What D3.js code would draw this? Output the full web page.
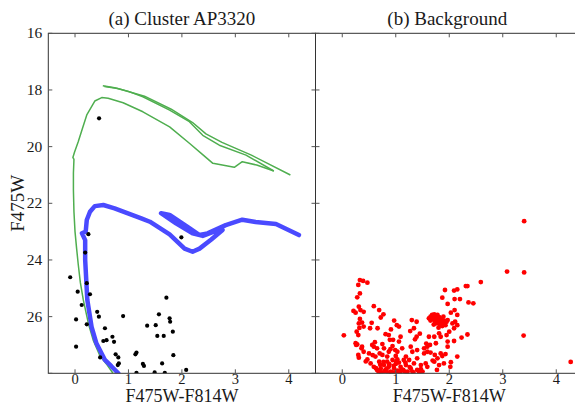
<!DOCTYPE html>
<html><head><meta charset="utf-8">
<script src="https://cdn.jsdelivr.net/npm/d3@7"></script>
<style>
html,body{margin:0;padding:0;background:#fff;}
svg{display:block;}
</style></head><body>
<svg id="chart" width="575" height="405"></svg>
<script>
// ---------- data ----------
const panelTitles = ["(a) Cluster AP3320", "(b) Background"];
const xLabel = "F475W-F814W";
const yLabel = "F475W";
const xTicks = [0, 1, 2, 3, 4];
const yTicks = [16, 18, 20, 22, 24, 26, 28];
const yTickLabels = [16, 18, 20, 22, 24, 26];

// green isochrone pieces [colour, magnitude]
const greenMain = [[0.71,28.0],[0.6,27.7],[0.47,27.4],[0.34,26.83],[0.25,26.24],[0.155,25.41],[0.1,24.8],[0.06,24.15],[0.03,23.6],[0.0,23.0],[-0.02,22.3],[-0.03,21.53],[-0.03,20.94],[-0.02,20.45],[-0.04,20.38],[-0.01,20.2],[0.06,19.83],[0.14,19.35],[0.22,18.88],[0.31,18.59],[0.37,18.39],[0.5,18.27],[0.62,18.29],[0.9,18.45],[1.27,18.77],[1.77,19.3],[2.14,19.88],[2.4,20.3],[2.58,20.59],[2.98,20.73],[3.13,20.53],[3.4,20.65],[3.72,20.86]];
const greenUpperA = [[0.52,17.85],[0.74,17.92],[1.0,18.05],[1.27,18.24],[1.77,18.71],[2.14,19.12],[2.39,19.6],[2.7,19.95],[3.2,20.3],[3.72,20.86]];
const greenUpperB = [[0.55,17.88],[0.8,17.95],[1.3,18.22],[1.8,18.68],[2.2,19.15],[2.45,19.55],[2.75,19.85],[3.3,20.3],[4.03,21.0]];
// blue isochrone
const blueTrack = [[0.81,28.0],[0.68,27.75],[0.56,27.53],[0.40,26.94],[0.31,26.36],[0.23,25.41],[0.19,24.0],[0.19,23.3],[0.13,23.06],[0.2,23.0],[0.22,22.59],[0.28,22.3],[0.37,22.1],[0.53,22.06],[0.74,22.18],[1.24,22.53],[1.4,22.65],[1.77,23.1],[2.05,23.6],[2.2,23.71],[2.33,23.6],[2.55,23.28],[2.76,22.94],[2.6,23.0],[2.39,23.15],[2.2,23.06],[1.89,22.71],[1.61,22.35],[1.77,22.41],[2.14,22.88],[2.33,23.12],[2.48,23.06],[2.82,22.77],[3.13,22.58],[3.38,22.66],[3.76,22.73],[4.19,23.12]];

// cluster stars
const clusterColor = [-0.09,0.05,0.22,0.28,0.125,0.415,0.447,0.02,0.22,0.90,0.56,0.53,0.59,0.70,0.73,0.02,0.47,0.76,0.81,0.82,0.80,1.13,1.15,1.15,1.35,1.51,1.57,1.71,1.77,1.78,1.54,1.66,1.83,1.84,1.27,1.29,1.63,1.49,1.68,2.08,0.25,0.19,1.99,0.45];
const clusterMag   = [24.61,25.12,24.82,25.21,25.59,25.83,26.0,26.10,26.27,25.98,26.41,26.86,26.83,26.71,26.89,27.06,27.44,27.33,27.44,27.65,27.71,27.33,27.27,27.98,26.32,26.30,25.92,25.33,26.06,26.18,26.68,26.68,26.53,27.36,27.67,27.74,27.65,27.97,27.98,27.88,23.09,23.74,23.2,19.0];

// background stars
const bgColor = [3.40,3.08,3.40,3.39,4.27,0.03,2.59,2.34,2.31,2.15,2.09,1.92,1.87,2.10,2.20,2.36,2.45,1.97,2.10,2.03,2.15,1.97,2.11,2.15,2.34,2.23,2.09,1.97,1.97,2.15,2.03,1.93,1.87,2.02,
 0.33,0.39,0.47,0.30,0.33,0.28,0.21,0.25,0.31,0.34,0.40,0.59,0.69,0.72,0.77,0.33,0.31,0.37,0.40,0.52,0.66,0.27,0.30,0.37,0.25,0.26,0.30,0.31,
 0.97,1.02,1.06,1.30,1.39,1.34,1.27,0.81,0.87,0.89,0.95,1.09,1.06,1.39,1.36,1.62,1.64,1.72,1.81,1.84,1.75,1.59,1.53,0.56,0.59,0.65,0.75,0.78,0.94,0.70,0.75,0.84,1.00,1.03,1.19,1.25,1.40,1.34,1.47,1.56,1.59,1.72,1.78,1.81,1.90,1.77,
 0.47,0.53,0.59,0.65,0.72,0.78,0.81,0.87,0.90,0.97,1.00,1.04,1.09,1.14,1.19,1.22,1.28,1.31,1.40,1.50,0.69,0.84,0.94,1.06,1.15,0.62,0.50,0.40,0.87,0.90,1.03,1.12,1.28,1.31,1.40,1.53,1.59,1.65,1.73,1.84,
 1.65,1.68,1.72,1.75,1.78,1.81,1.68,1.73,1.77,1.81,1.84,1.87,1.90,1.93,1.83,1.87,1.75,1.78,1.85,1.90,1.65,1.62,1.72,1.89,1.95,1.80,1.70,1.74,1.79,1.86,1.71,1.76,
 2.06,2.09,2.00,1.95,0.68,0.73,0.79,0.86,0.92,0.98,1.08,1.16,1.21,1.33,1.44,0.63,0.71,0.77,0.83,0.88,0.96,1.01,1.11,1.18,1.26,0.57,0.44,0.36,0.28,0.32,0.61,0.99,1.47,1.69,1.57,1.45,0.91,0.55];
const bgMag = [22.63,24.41,24.44,26.67,27.60,26.66,24.78,24.92,24.92,25.04,25.08,25.06,25.33,25.38,25.38,25.50,25.53,25.55,25.77,25.86,25.94,26.12,26.18,26.30,26.63,26.74,26.86,26.88,27.06,27.41,27.61,27.32,27.39,27.77,
 24.71,24.74,24.80,24.88,25.18,25.32,25.80,25.86,25.65,25.77,25.83,25.63,25.77,26.03,25.92,26.08,26.24,26.21,26.35,26.41,26.41,26.53,26.65,27.06,26.94,27.00,27.35,27.45,
 26.14,26.30,26.35,26.12,26.18,26.41,26.51,26.62,26.65,26.82,26.82,26.71,26.88,26.71,26.80,26.71,27.00,26.71,26.59,26.71,26.94,27.24,27.30,27.00,27.06,27.12,26.97,27.12,27.04,27.30,27.35,27.41,27.39,27.51,27.41,27.53,27.47,27.65,27.71,27.65,27.77,27.59,27.47,27.71,27.65,27.88,
 27.51,27.65,27.77,27.88,27.83,27.71,27.88,27.77,27.94,27.83,27.67,27.91,27.77,27.88,27.71,27.94,27.83,27.94,27.88,27.94,27.59,27.59,27.53,27.62,27.53,27.41,27.30,27.24,27.24,27.15,27.24,27.12,27.06,27.24,27.18,27.12,27.06,27.27,27.35,27.30,
 26.00,25.94,25.92,25.98,25.94,26.02,26.10,26.12,26.14,26.18,26.21,26.24,26.26,26.30,26.30,26.33,26.24,26.06,26.10,26.14,26.14,26.06,26.02,26.00,26.18,26.39,26.05,26.20,26.22,26.16,26.28,26.08,
 26.24,26.41,26.53,26.65,27.95,27.97,27.92,27.99,27.96,27.98,27.96,27.93,27.98,27.97,27.96,27.82,27.70,27.60,27.84,27.68,27.74,27.58,27.86,27.62,27.78,27.36,27.58,27.12,26.98,26.40,26.90,27.18,27.85,27.55,26.95,26.60,26.45,26.22];

// ---------- layout ----------
const FONT = "Liberation Serif";
const svg = d3.select("#chart").attr("font-family", FONT);
const plotTop = 33.3, plotBottom = 373.3;
const panels = [{x0: 48.3, x1: 315.5}, {x0: 315.5, x1: 583}];
const y = d3.scaleLinear().domain([16, 28]).range([plotTop, plotBottom]);

function addText(sel) {
  return sel.append("text").attr("font-family", FONT).attr("fill", "#1a1a1a");
}

panels.forEach((p, i) => {
  const x = d3.scaleLinear().domain([-0.5, 4.5]).range([p.x0, p.x1]);
  const g = svg.append("g");
  const clipId = "clip" + i;
  svg.append("clipPath").attr("id", clipId).append("rect")
    .attr("x", p.x0).attr("y", plotTop).attr("width", p.x1 - p.x0).attr("height", plotBottom - plotTop);
  const plot = g.append("g").attr("clip-path", `url(#${clipId})`);
  const line = d3.line().x(d => x(d[0])).y(d => y(d[1]));

  if (i === 0) {
    [greenMain, greenUpperA, greenUpperB].forEach(seg => {
      plot.append("path").datum(seg).attr("d", line)
        .attr("fill", "none").attr("stroke", "#4fae4f").attr("stroke-width", 1.5)
        .attr("stroke-linejoin", "round");
    });
    plot.append("path").datum(blueTrack).attr("d", line)
      .attr("fill", "none").attr("stroke", "#4a4aff").attr("stroke-width", 4.5)
      .attr("stroke-linejoin", "round").attr("stroke-linecap", "round");
    plot.selectAll("circle.cl").data(clusterColor.map((c, k) => [c, clusterMag[k]]))
      .enter().append("circle").attr("class", "cl")
      .attr("cx", d => x(d[0])).attr("cy", d => y(d[1])).attr("r", 2.1).attr("fill", "#000");
  } else {
    plot.selectAll("circle.bg").data(bgColor.map((c, k) => [c, bgMag[k]]))
      .enter().append("circle").attr("class", "bg")
      .attr("cx", d => x(d[0])).attr("cy", d => y(d[1])).attr("r", 2.4).attr("fill", "#ff0000");
  }

  // frame
  g.append("rect").attr("x", p.x0).attr("y", plotTop).attr("width", p.x1 - p.x0).attr("height", plotBottom - plotTop)
    .attr("fill", "none").attr("stroke", "#333").attr("stroke-width", 1);

  // inward ticks on all sides
  const tk = 4;
  xTicks.forEach(t => {
    g.append("line").attr("x1", x(t)).attr("x2", x(t)).attr("y1", plotBottom).attr("y2", plotBottom - tk).attr("stroke", "#555");
    g.append("line").attr("x1", x(t)).attr("x2", x(t)).attr("y1", plotTop).attr("y2", plotTop + tk).attr("stroke", "#555");
  });
  yTicks.forEach(t => {
    g.append("line").attr("x1", p.x0).attr("x2", p.x0 + tk).attr("y1", y(t)).attr("y2", y(t)).attr("stroke", "#555");
    g.append("line").attr("x1", p.x1).attr("x2", p.x1 - tk).attr("y1", y(t)).attr("y2", y(t)).attr("stroke", "#555");
  });
  // x tick labels
  xTicks.forEach(t => {
    addText(g).attr("x", x(t)).attr("y", plotBottom + 10.5).attr("text-anchor", "middle")
      .attr("font-size", 14.5).text(t);
  });
  if (i === 0) {
    yTickLabels.forEach(t => {
      addText(g).attr("x", p.x0 - 6).attr("y", y(t) + 5).attr("text-anchor", "end")
        .attr("font-size", 15.5).text(t);
    });
  }
  // titles
  addText(g).attr("x", (p.x0 + Math.min(p.x1, 579)) / 2).attr("y", 25).attr("text-anchor", "middle")
    .attr("font-size", 19).text(panelTitles[i]);
  addText(g).attr("x", (p.x0 + p.x1) / 2).attr("y", 402).attr("text-anchor", "middle")
    .attr("font-size", 18).text(xLabel);
});

addText(svg).attr("transform", `translate(24,${(plotTop + plotBottom) / 2}) rotate(-90)`)
  .attr("text-anchor", "middle").attr("font-size", 19).text(yLabel);
</script>
</body></html>
